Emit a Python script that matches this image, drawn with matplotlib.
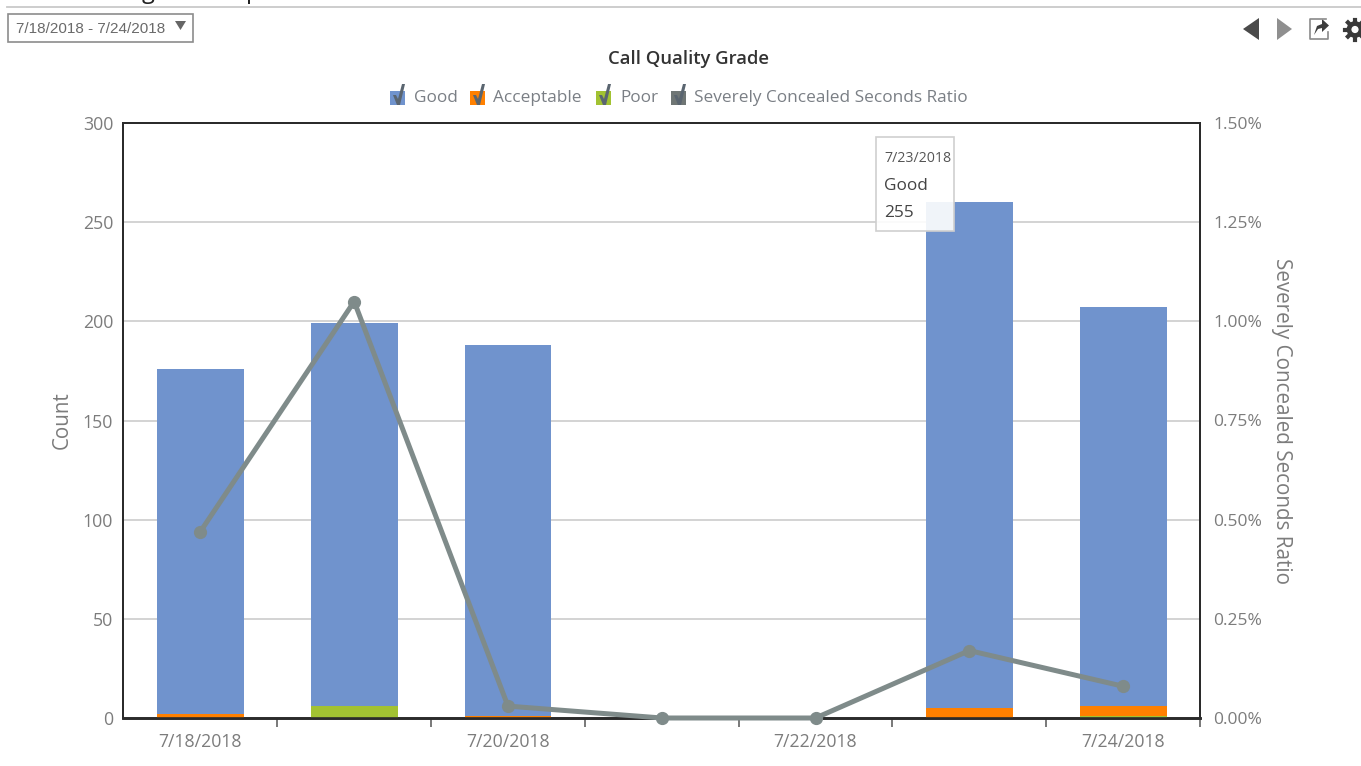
# -*- coding: utf-8 -*-
import matplotlib
matplotlib.use("Agg")
import matplotlib.pyplot as plt
from matplotlib.patches import Polygon, Rectangle, Circle
import numpy as np

W, H = 1361, 766

plt.rcParams['font.family'] = ['Open Sans', 'DejaVu Sans']

# values
dates = ['7/18/2018', '7/19/2018', '7/20/2018', '7/21/2018', '7/22/2018', '7/23/2018', '7/24/2018']
poor = [0, 6, 0, 0, 0, 0, 1]
acceptable = [2, 0, 1, 0, 0, 5, 5]
good = [174, 193, 187, 0, 0, 255, 201]
sc_ratio = [0.47, 1.05, 0.03, 0.0, 0.0, 0.17, 0.08]

count_ticks = [0, 50, 100, 150, 200, 250, 300]
ratio_ticks = [0.0, 0.25, 0.5, 0.75, 1.0, 1.25, 1.5]

legend_names = ['Good', 'Acceptable', 'Poor', 'Severely Concealed Seconds Ratio']

BLUE = '#7093cd'
ORANGE = '#ff8000'
GREEN = '#a2c232'
GREY = '#7f8b8a'
TXT = '#7c7c7c'
DARK = '#2b2b2b'

fig = plt.figure(figsize=(W / 100, H / 100), dpi=100, facecolor='white')

# plot area placed in pixels
left, right, top, bottom = 123.5, 1200, 123, 718
ax = fig.add_axes([left / W, 1 - bottom / H, (right - left) / W, (bottom - top) / H])
ax2 = ax.twinx()

x = np.arange(len(dates))
p = np.array(poor)
a = np.array(acceptable)
g = np.array(good)
bw = 0.565
ax.bar(x, p, bw, color=GREEN, zorder=3)
ax.bar(x, a, bw, bottom=p, color=ORANGE, zorder=3)
ax.bar(x, g, bw, bottom=p + a, color=BLUE, zorder=3)

ax.set_xlim(-0.5, len(dates) - 0.5)
ax.set_ylim(0, 300)
ax.set_yticks(count_ticks)
ax.yaxis.grid(True, color='#c8c8c8', lw=1.1, zorder=0)
ax.set_axisbelow(True)
ax.tick_params(axis='y', length=0, pad=7.5, labelsize=12.8, labelcolor=TXT)

# ticks sit between the days, only every other day is labelled
ax.set_xticks(np.arange(1, len(dates) + 1) - 0.5)
ax.set_xticklabels([])
ax.tick_params(axis='x', length=6.5, width=1.1, color='#555555')
ax.set_xticks(x[::2], minor=True)
ax.set_xticklabels(dates[::2], minor=True, fontsize=12.7, color=TXT)
ax.tick_params(axis='x', which='minor', length=0, pad=10.5)

ax.set_ylabel('Count', fontsize=14.8, color=TXT, labelpad=7)

ax2.plot(x, sc_ratio, color=GREY, lw=3.6, marker='o', ms=8.5, zorder=5, clip_on=False)
ax2.set_ylim(0, 1.5)
ax2.set_yticks(ratio_ticks)
ax2.set_yticklabels(['%.2f%%' % v for v in ratio_ticks])
ax2.tick_params(axis='y', length=0, pad=9.5, labelsize=12.5, labelcolor=TXT)
ax2.set_ylabel('Severely Concealed Seconds Ratio', fontsize=14.85, color=TXT, rotation=270, labelpad=21.5)

ax.set_zorder(1)
ax2.set_zorder(2)
ax2.patch.set_visible(False)
for a_ in (ax, ax2):
    for name in ('left', 'right', 'top'):
        a_.spines[name].set_linewidth(1.4)
        a_.spines[name].set_color(DARK)
    a_.spines['bottom'].set_linewidth(1.9)
    a_.spines['bottom'].set_color(DARK)

# page furniture around the chart, in pixel coordinates
ui = fig.add_axes([0, 0, 1, 1], zorder=5)
ui.set_xlim(0, W)
ui.set_ylim(H, 0)
ui.axis('off')

ui.plot([7, W], [7, 7], color='#c9c9c9', lw=1.3)
ui.text(148, -2, 'g', fontsize=17, color='#222222', ha='center', va='baseline', clip_on=True)
ui.text(253, -2, 'p', fontsize=17, color='#222222', ha='center', va='baseline', clip_on=True)

ui.add_patch(Rectangle((8.5, 13.5), 185, 28, fc='white', ec='#8c8c8c', lw=1.2))
ui.text(16, 29, '7/18/2018 - 7/24/2018', family=['Liberation Sans'], fontsize=11, color='#6a6a6a', va='center')
ui.add_patch(Polygon([[175, 21], [186, 21], [180.5, 30]], fc='#666666', ec='none'))

ui.text(688.5, 58.5, 'Call Quality Grade', fontsize=13.3, fontweight='semibold', color='#333333', ha='center',
        va='center')


def checkbox(px, col):
    ui.add_patch(Rectangle((px, 90.5), 15, 14.5, fc=col, ec='none'))
    ui.add_patch(Polygon([[px + 3, 95], [px + 6, 95], [px + 8, 99], [px + 12, 84], [px + 15, 84], [px + 10, 105],
                          [px + 7, 105]], fc='#5a6570', ec='none'))


legend_x = [390, 470, 596, 671]
legend_txt_x = [414, 493, 620, 694]
legend_col = [BLUE, ORANGE, GREEN, '#6f7675']
for bx, tx, col, name in zip(legend_x, legend_txt_x, legend_col, legend_names):
    checkbox(bx, col)
    ui.text(tx, 97.5, name, fontsize=12.4, color='#7a7f85', va='center')

# pager, share and settings icons
ui.add_patch(Polygon([[1259, 18], [1259, 40], [1243, 29]], fc='#4a4a4a', ec='none'))
ui.add_patch(Polygon([[1277, 18], [1277, 40], [1292, 29]], fc='#8f8f8f', ec='none'))
ui.plot([1326, 1310, 1310, 1328, 1328], [19, 19, 39, 39, 32], color='#8a8a8a', lw=1.2)
ui.add_patch(Polygon([[1314, 35], [1317, 26], [1322, 24], [1322, 19], [1329, 25.5], [1322, 32], [1322, 28], [1318, 29]],
                     fc='#3d3d3d', ec='none'))
ui.add_patch(Circle((1355, 29.5), 6, fc='white', ec='#3a3a3a', lw=3.4))
for ang in np.arange(0, 360, 45):
    r = np.deg2rad(ang)
    ui.plot([1355 + 7 * np.cos(r), 1355 + 10 * np.cos(r)], [29.5 + 7 * np.sin(r), 29.5 + 10 * np.sin(r)],
            color='#3a3a3a', lw=3)

# hover tooltip
ui.add_patch(Rectangle((876.5, 136.5), 77.5, 94.5, fc=(1, 1, 1, 0.9), ec='#cfcfcf', lw=1.2))
ui.text(884, 158.5, '7/23/2018', fontsize=10.2, color='#555555', va='center')
ui.text(884, 186, 'Good', fontsize=12.4, color='#444444', va='center')
ui.text(884, 213, '255', fontsize=12.4, color='#444444', va='center')

fig.savefig('out.png', dpi=100)
